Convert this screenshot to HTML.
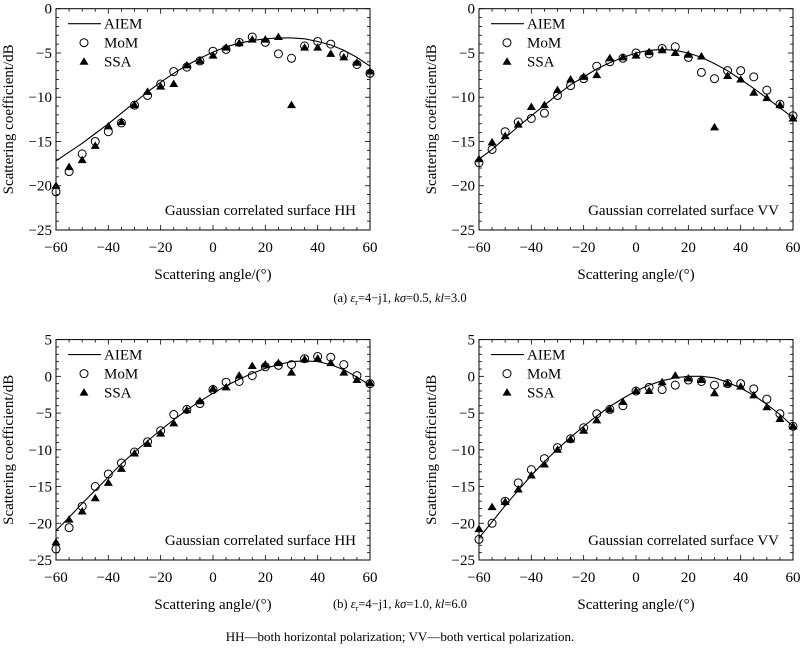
<!DOCTYPE html>
<html><head><meta charset="utf-8"><style>
body{margin:0;background:#fff;width:800px;height:657px;overflow:hidden}
svg{display:block;font-family:"Liberation Serif",serif}
</style></head><body>
<svg id="fig" width="800" height="657" viewBox="0 0 800 657">
<text x="400" y="302" text-anchor="middle" font-size="12.5">(a) <tspan font-style="italic">ε</tspan><tspan font-size="8" dy="3">r</tspan><tspan dy="-3">=4−j1, </tspan><tspan font-style="italic">kσ</tspan>=0.5, <tspan font-style="italic">kl</tspan>=3.0</text>
<text x="400" y="608" text-anchor="middle" font-size="12.5">(b) <tspan font-style="italic">ε</tspan><tspan font-size="8" dy="3">r</tspan><tspan dy="-3">=4−j1, </tspan><tspan font-style="italic">kσ</tspan>=1.0, <tspan font-style="italic">kl</tspan>=6.0</text>
<text x="400" y="641" text-anchor="middle" font-size="13">HH—both horizontal polarization; VV—both vertical polarization.</text>
</svg>
<script>
const angles=[-60,-55,-50,-45,-40,-35,-30,-25,-20,-15,-10,-5,0,5,10,15,20,25,30,35,40,45,50,55,60];
const xTicks=[-60,-40,-20,0,20,40,60];
const yTicksA=[0,-5,-10,-15,-20,-25];
const yTicksB=[5,0,-5,-10,-15,-20,-25];
const aHH_aiem=[-17.2,-16.2,-15.2,-14.1,-13.0,-11.8,-10.6,-9.4,-8.3,-7.3,-6.4,-5.6,-4.9,-4.3,-3.9,-3.6,-3.4,-3.3,-3.3,-3.4,-3.7,-4.1,-4.7,-5.5,-6.5];
const aHH_mom=[-20.7,-18.4,-16.4,-15.0,-13.9,-12.9,-10.9,-9.8,-8.5,-7.1,-6.6,-5.9,-4.8,-4.6,-3.8,-3.2,-3.8,-5.1,-5.6,-4.2,-3.7,-4.0,-5.2,-6.3,-7.3];
const aHH_ssa=[-20.0,-17.9,-17.1,-15.5,-13.3,-12.8,-10.9,-9.4,-8.8,-8.5,-6.4,-5.9,-5.3,-4.4,-3.9,-3.5,-3.5,-3.2,-10.9,-4.4,-4.4,-5.1,-5.5,-6.1,-7.1];
const aVV_aiem=[-17.0,-15.9,-14.6,-13.3,-12.1,-10.9,-9.7,-8.6,-7.7,-6.8,-6.1,-5.5,-5.0,-4.7,-4.6,-4.7,-5.0,-5.5,-6.2,-7.0,-8.0,-9.0,-10.1,-11.2,-12.3];
const aVV_mom=[-17.4,-15.9,-13.9,-12.8,-12.4,-11.8,-9.8,-8.7,-7.9,-6.5,-6.0,-5.6,-5.0,-5.1,-4.5,-4.3,-5.5,-7.2,-7.9,-7.0,-7.0,-7.7,-9.2,-10.8,-12.1];
const aVV_ssa=[-17.0,-15.1,-14.4,-13.1,-11.1,-10.9,-9.2,-8.0,-7.7,-7.5,-5.6,-5.5,-5.3,-4.9,-4.7,-5.0,-5.2,-5.4,-13.4,-7.6,-8.0,-9.5,-10.1,-10.9,-12.4];
const bHH_aiem=[-21.0,-19.2,-17.3,-15.5,-13.7,-11.9,-10.3,-8.8,-7.3,-5.9,-4.6,-3.4,-2.3,-1.3,-0.4,0.4,1.1,1.6,2.0,2.1,2.0,1.6,0.9,-0.1,-1.2];
const bHH_mom=[-23.5,-20.6,-17.7,-15.0,-13.3,-11.8,-10.3,-8.9,-7.4,-5.2,-4.5,-3.7,-1.8,-0.8,-0.7,0.1,1.3,1.5,1.6,2.4,2.7,2.6,1.6,0.1,-1.0];
const bHH_ssa=[-22.6,-19.5,-18.4,-16.6,-14.5,-12.6,-10.5,-9.2,-7.8,-6.4,-4.6,-3.4,-1.7,-1.5,0.1,1.4,1.6,1.8,0.5,2.3,2.4,1.8,0.5,-0.5,-0.9];
const bVV_aiem=[-22.0,-19.8,-17.6,-15.5,-13.5,-11.6,-9.9,-8.3,-6.8,-5.4,-4.1,-3.0,-2.0,-1.2,-0.6,-0.2,0.0,0.0,-0.2,-0.8,-1.6,-2.6,-3.8,-5.2,-6.8];
const bVV_mom=[-22.2,-20.0,-17.0,-14.5,-12.7,-11.2,-9.7,-8.5,-7.0,-5.1,-4.5,-4.0,-2.0,-1.5,-1.8,-1.2,-0.5,-0.7,-1.2,-1.0,-1.0,-1.7,-3.1,-5.1,-6.8];
const bVV_ssa=[-20.8,-17.8,-17.1,-15.4,-13.5,-12.0,-10.0,-8.6,-7.4,-6.0,-4.5,-3.5,-2.0,-2.0,-0.8,0.1,-0.3,-0.5,-2.3,-1.0,-1.4,-2.6,-4.2,-5.8,-6.8];

const NS='http://www.w3.org/2000/svg';
const svg=document.getElementById('fig');
const FS=15;
function mk(tag,attrs,parent,text){const e=document.createElementNS(NS,tag);for(const k in attrs)e.setAttribute(k,attrs[k]);if(text!==undefined)e.textContent=text;(parent||svg).appendChild(e);return e;}
function fmt(v){return v<0?'−'+Math.abs(v):''+v;}

function panel(id,x0,x1,y0,y1,ymax,ymin,yTicks,aiem,mom,ssa,label){
  const g=mk('g',{});
  
  
  const sx=v=>x0+(v+60)/120*(x1-x0);
  const sy=v=>y0+(ymax-v)/(ymax-ymin)*(y1-y0);
  const fr=mk('rect',{x:x0,y:y0,width:x1-x0,height:y1-y0,fill:'none',stroke:'#000','stroke-width':1},g);
  
  
  for(let v=-60;v<=60;v+=5){const X=sx(v);const L=(v%20===0)?5:3;
    mk('line',{x1:X,x2:X,y1:y1,y2:y1-L,stroke:'#000','stroke-width':0.8},g);
    mk('line',{x1:X,x2:X,y1:y0,y2:y0+L,stroke:'#000','stroke-width':0.8},g);}
  for(let v=ymin;v<=ymax;v+=1){const Y=sy(v);const L=(v%5===0)?5:3;
    mk('line',{x1:x0,x2:x0+L,y1:Y,y2:Y,stroke:'#000','stroke-width':0.8},g);
    mk('line',{x1:x1,x2:x1-L,y1:Y,y2:Y,stroke:'#000','stroke-width':0.8},g);}
  xTicks.forEach(v=>{const t=mk('text',{x:sx(v),y:y1+22,'text-anchor':'middle','font-size':FS},g,fmt(v));
    
    });
  yTicks.forEach(v=>{const t=mk('text',{x:x0-4,y:sy(v)+5,'text-anchor':'end','font-size':FS},g,fmt(v));
    
    });
  const xt=mk('text',{x:(x0+x1)/2,y:y1+49,'text-anchor':'middle','font-size':FS},g,'Scattering angle/(°)');
  
  
  const yc=(y0+y1)/2, yx=x0-43;
  const yt=mk('text',{x:yx,y:yc,'text-anchor':'middle','font-size':FS,transform:'rotate(-90 '+yx+' '+yc+')'},g,'Scattering coefficient/dB');
  
  
  const ann=mk('text',{x:x1-14,y:y1-15,'text-anchor':'end','font-size':FS},g,'Gaussian correlated surface '+label);
  
  
  const pts=angles.map((a,i)=>sx(a).toFixed(1)+','+sy(aiem[i]).toFixed(1)).join(' ');
  const pl=mk('polyline',{points:pts,fill:'none',stroke:'#000','stroke-width':1.1},g);
  
  
  angles.forEach((a,i)=>{const X=sx(a),Y=sy(ssa[i]);
    const t=mk('polygon',{points:`${X},${Y-4.5} ${X-4.5},${Y+3} ${X+4.5},${Y+3}`,fill:'#000'},g);
    
    });
  angles.forEach((a,i)=>{const c=mk('circle',{cx:sx(a),cy:sy(mom[i]),r:4,fill:'none',stroke:'#000','stroke-width':1},g);
    
    });
  const lg=mk('g',{},g);
  
  
  const lx=x0+12, ly=y0+15;
  mk('line',{x1:lx,x2:lx+33,y1:ly,y2:ly,stroke:'#000','stroke-width':1.1},lg);
  mk('text',{x:lx+36,y:ly+5,'font-size':FS},lg,'AIEM');
  mk('circle',{cx:lx+16,cy:ly+19,r:4,fill:'none',stroke:'#000'},lg);
  mk('text',{x:lx+36,y:ly+24,'font-size':FS},lg,'MoM');
  const tx=lx+16,ty=ly+38;
  mk('polygon',{points:`${tx},${ty-4.5} ${tx-4.5},${ty+3} ${tx+4.5},${ty+3}`,fill:'#000'},lg);
  mk('text',{x:lx+36,y:ly+43,'font-size':FS},lg,'SSA');
}
panel('a-hh',56,370,8.7,230,0,-25,yTicksA,aHH_aiem,aHH_mom,aHH_ssa,'HH');
panel('a-vv',479,793,8.7,230,0,-25,yTicksA,aVV_aiem,aVV_mom,aVV_ssa,'VV');
panel('b-hh',56,370,339.6,560,5,-25,yTicksB,bHH_aiem,bHH_mom,bHH_ssa,'HH');
panel('b-vv',479,793,339.6,560,5,-25,yTicksB,bVV_aiem,bVV_mom,bVV_ssa,'VV');
</script>
</body></html>
